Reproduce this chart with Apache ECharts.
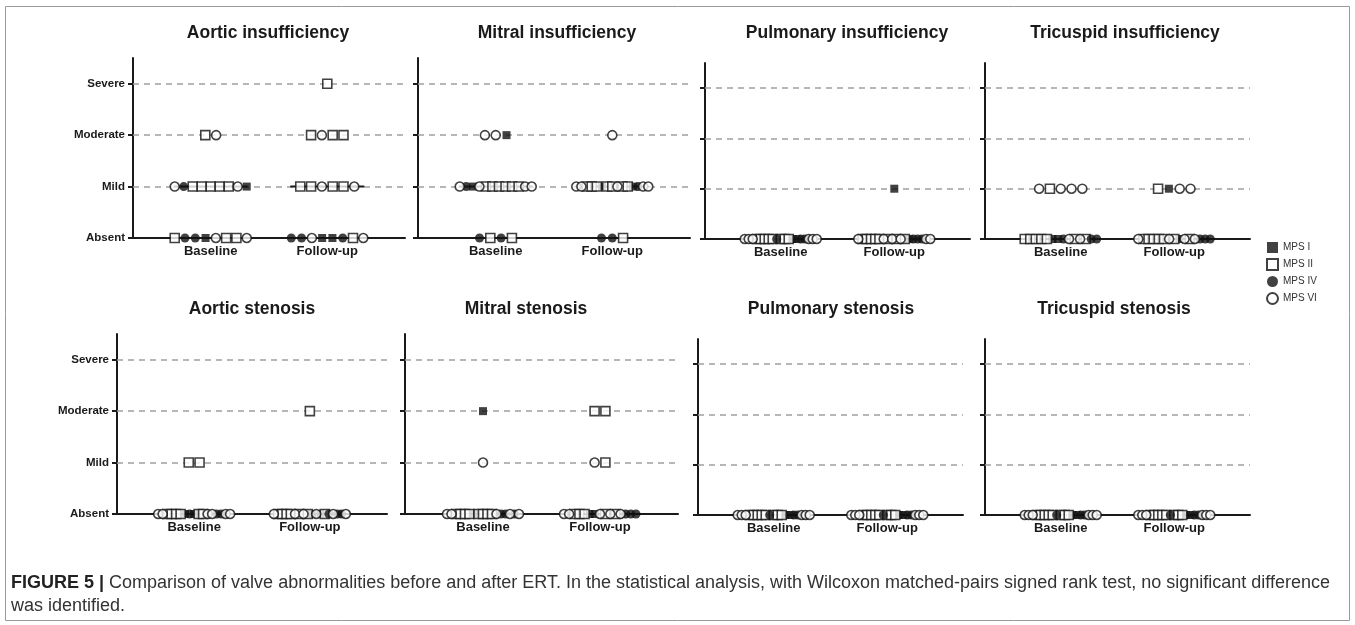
<!DOCTYPE html>
<html>
<head>
<meta charset="utf-8">
<script src="https://cdn.jsdelivr.net/npm/echarts@6/dist/echarts.min.js"></script>
<style>
html,body{margin:0;padding:0;background:#fff;}
#chart{width:1355px;height:625px;}
</style>
</head>
<body>
<div id="chart"></div>
<script>
// ---------- data ----------
const LEVELS = ['Absent', 'Mild', 'Moderate', 'Severe'];
const GROUPS = ['Baseline', 'Follow-up'];
const TYPES = ['MPS I', 'MPS II', 'MPS IV', 'MPS VI'];
const TYPE_CODES = ['I', 'II', 'IV', 'VI'];
const PANEL_TITLES = [
  'Aortic insufficiency', 'Mitral insufficiency', 'Pulmonary insufficiency', 'Tricuspid insufficiency',
  'Aortic stenosis', 'Mitral stenosis', 'Pulmonary stenosis', 'Tricuspid stenosis'
];
// rows: [group index, level index, patients' MPS types from left to right]
const aorticInsufficiency = [
  [0, 2, 'II VI'],
  [0, 1, 'VI IV II II II II II VI I'],
  [0, 0, 'II IV IV I VI II II VI'],
  [1, 3, 'II'],
  [1, 2, 'II VI II II'],
  [1, 1, 'II II VI II II VI'],
  [1, 0, 'IV IV VI I I IV II VI']
];
const mitralInsufficiency = [
  [0, 2, 'VI VI I'],
  [0, 1, 'VI IV I VI II II II II II II VI VI'],
  [0, 0, 'IV II IV II'],
  [1, 2, 'VI'],
  [1, 1, 'VI VI II II II I II II VI II II I IV VI VI'],
  [1, 0, 'IV IV II']
];
const pulmonaryInsufficiency = [
  [0, 0, 'VI VI VI II II II II II IV II II II I I IV IV VI VI VI'],
  [1, 1, 'I'],
  [1, 0, 'VI II II II II II VI II VI II VI II I IV IV IV VI VI']
];
const tricuspidInsufficiency = [
  [0, 1, 'VI II VI VI VI'],
  [0, 0, 'II II II II II I I IV VI II VI II IV IV'],
  [1, 1, 'II I VI VI'],
  [1, 0, 'VI II II II II II VI II I VI II VI IV IV IV']
];
const aorticStenosis = [
  [0, 1, 'II II'],
  [0, 0, 'VI VI II II II II I IV I II II VI VI IV IV VI VI'],
  [1, 2, 'II'],
  [1, 0, 'VI II II II II VI II VI II I VI I II IV VI IV IV VI']
];
const mitralStenosis = [
  [0, 2, 'I'],
  [0, 1, 'VI'],
  [0, 0, 'VI VI II II II II I II II II II VI IV IV VI IV VI'],
  [1, 2, 'II II'],
  [1, 1, 'VI II'],
  [1, 0, 'VI VI II II II I I VI II VI II VI IV IV IV']
];
const pulmonaryStenosis = [
  [0, 0, 'VI VI VI II II II II II IV II II II I I IV IV VI VI VI'],
  [1, 0, 'VI VI VI II II II II II IV II II II I I IV IV VI VI VI']
];
const tricuspidStenosis = [
  [0, 0, 'VI VI VI II II II II II IV II II II I I IV IV VI VI VI'],
  [1, 0, 'VI VI VI II II II II II IV II II II I I IV IV VI VI VI']
];
const PANELS = [aorticInsufficiency, mitralInsufficiency, pulmonaryInsufficiency, tricuspidInsufficiency,
  aorticStenosis, mitralStenosis, pulmonaryStenosis, tricuspidStenosis];
const CAPTION_LABEL = 'FIGURE 5 |';
const CAPTION_LINE1 = ' Comparison of valve abnormalities before and after ERT. In the statistical analysis, with Wilcoxon matched-pairs signed rank test, no significant difference';
const CAPTION_LINE2 = 'was identified.';

// ---------- layout / style ----------
const FONT = '"Liberation Sans", Arial, Helvetica, sans-serif';
const X_MAX = 3.5, Y_MAX = 3.5;
const GROUP_POS = [1, 2.5];
const GRIDS = [
  {left: 133, top: 58, width: 272, height: 180},
  {left: 418, top: 58, width: 272, height: 180},
  {left: 705, top: 63, width: 265, height: 176},
  {left: 985, top: 63, width: 265, height: 176},
  {left: 117, top: 334, width: 270, height: 180},
  {left: 405, top: 334, width: 273, height: 180},
  {left: 698, top: 339, width: 265, height: 176},
  {left: 985, top: 339, width: 265, height: 176}
];
const TITLE_POS = [[268, 33], [557, 33], [847, 33], [1125, 33], [252, 309], [526, 309], [831, 309], [1114, 309]];
const SYMBOLS = {
  'I':  {symbol: 'rect', size: 8, itemStyle: {color: '#111', borderColor: '#111', borderWidth: 0}},
  'II': {symbol: 'rect', size: 9, itemStyle: {color: '#fff', borderColor: '#111', borderWidth: 1.6}},
  'IV': {symbol: 'circle', size: 9, itemStyle: {color: '#111', borderColor: '#111', borderWidth: 0}},
  'VI': {symbol: 'circle', size: 9, itemStyle: {color: '#fff', borderColor: '#111', borderWidth: 1.6}}
};
const STEP_PX = 10.8, MAX_SPREAD_PX = 72, MEDIAN_HALF_PX = 37;

const grid = [], xAxis = [], yAxis = [], series = [];
PANELS.forEach((rows, p) => {
  const g = GRIDS[p];
  grid.push(Object.assign({containLabel: false}, g));
  const unit = g.width / X_MAX;
  const labelled = (p % 4 === 0);
  xAxis.push({
    type: 'value', gridIndex: p, min: 0, max: X_MAX,
    axisLine: {show: true, onZero: false, lineStyle: {color: '#1a1a1a', width: 2}},
    axisTick: {show: false},
    splitLine: {show: false},
    axisLabel: {
      show: true, customValues: GROUP_POS, margin: 7,
      formatter: v => GROUPS[GROUP_POS.indexOf(v)] || '',
      fontFamily: FONT, fontWeight: 'bold', fontSize: 13, color: '#1a1a1a'
    }
  });
  yAxis.push({
    type: 'value', gridIndex: p, min: 0, max: Y_MAX,
    axisLine: {show: true, lineStyle: {color: '#1a1a1a', width: 2}},
    axisTick: {show: true, customValues: [0, 1, 2, 3], length: 5, lineStyle: {color: '#1a1a1a', width: 2}},
    splitLine: {show: false},
    axisLabel: {
      show: labelled, customValues: [0, 1, 2, 3], margin: 8,
      formatter: v => LEVELS[v] || '',
      fontFamily: FONT, fontWeight: 'bold', fontSize: 11.5, color: '#1a1a1a'
    }
  });
  // points per type
  const byType = {I: [], II: [], IV: [], VI: []};
  const levelsPerGroup = [[], []];
  rows.forEach(([gi, li, seq]) => {
    const codes = seq.split(' ');
    const n = codes.length;
    const stepPx = n > 1 ? Math.min(STEP_PX, MAX_SPREAD_PX / (n - 1)) : 0;
    codes.forEach((c, k) => {
      const x = GROUP_POS[gi] + (k - (n - 1) / 2) * stepPx / unit;
      byType[c].push([x, li]);
      levelsPerGroup[gi].push(li);
    });
  });
  // median lines (computed from the data) + dashed reference lines
  GROUPS.forEach((gname, gi) => {
    const v = levelsPerGroup[gi].slice().sort((a, b) => a - b);
    const m = v.length % 2 ? v[(v.length - 1) / 2] : (v[v.length / 2 - 1] + v[v.length / 2]) / 2;
    const half = MEDIAN_HALF_PX / unit;
    const s = {
      type: 'line', name: 'median', xAxisIndex: p, yAxisIndex: p, z: 2,
      symbol: 'none', silent: true,
      lineStyle: {color: '#1a1a1a', width: 2},
      data: [[GROUP_POS[gi] - half, m], [GROUP_POS[gi] + half, m]]
    };
    if (gi === 0) {
      s.markLine = {
        silent: true, symbol: ['none', 'none'], z: 1,
        label: {show: false},
        lineStyle: {type: [6, 5], color: '#a0a0a0', width: 1.5},
        data: [1, 2, 3].map(l => ({yAxis: l}))
      };
    }
    series.push(s);
  });
  TYPE_CODES.forEach((c, t) => {
    const sy = SYMBOLS[c];
    series.push({
      type: 'scatter', name: TYPES[t], xAxisIndex: p, yAxisIndex: p, z: 3,
      symbol: sy.symbol, symbolSize: sy.size, itemStyle: sy.itemStyle,
      data: byType[c]
    });
  });
});

const graphic = [
  {type: 'rect', silent: true, shape: {x: 5.5, y: 6.5, width: 1344, height: 614},
   style: {fill: 'none', stroke: '#9a9a9a', lineWidth: 1}}
];
PANEL_TITLES.forEach((t, i) => {
  graphic.push({type: 'text', x: TITLE_POS[i][0], y: TITLE_POS[i][1],
    style: {text: t, textAlign: 'center', textVerticalAlign: 'middle',
      font: 'bold 17.5px ' + FONT, fill: '#1a1a1a'}});
});
graphic.push({type: 'text', x: 11, y: 583,
  style: {text: '{b|' + CAPTION_LABEL + '}' + CAPTION_LINE1, textVerticalAlign: 'middle',
    font: '18px ' + FONT, fill: '#333',
    rich: {b: {font: 'bold 18px ' + FONT, fill: '#222'}}}});
graphic.push({type: 'text', x: 11, y: 606,
  style: {text: CAPTION_LINE2, textVerticalAlign: 'middle', font: '18px ' + FONT, fill: '#333'}});

const chart = echarts.init(document.getElementById('chart'), null, {renderer: 'canvas'});
chart.setOption({
  animation: false,
  backgroundColor: '#fff',
  grid, xAxis, yAxis, series, graphic,
  legend: {
    orient: 'vertical', left: 1261, top: 237, itemWidth: 11, itemHeight: 11, itemGap: 5,
    selectedMode: false,
    textStyle: {fontFamily: FONT, fontSize: 10, color: '#333'},
    data: [
      {name: 'MPS I', icon: 'rect'},
      {name: 'MPS II', icon: 'rect'},
      {name: 'MPS IV', icon: 'circle'},
      {name: 'MPS VI', icon: 'circle'}
    ]
  }
});
</script>
</body>
</html>
